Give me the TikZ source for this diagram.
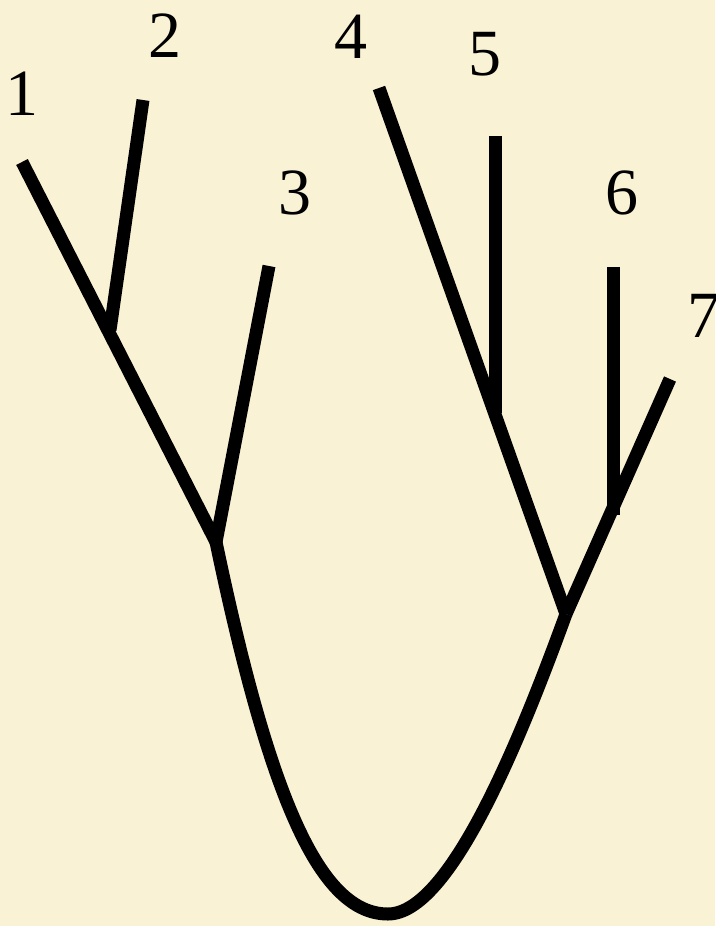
\documentclass[tikz,border=0pt]{standalone}
\usepackage{fontspec}
\setmainfont{Liberation Serif}
\definecolor{paper}{RGB}{250,242,212}
\begin{document}
\begin{tikzpicture}[x=1pt,y=-1pt,
  branch/.style={line width=13pt,black,line cap=butt},
  lbl/.style={font=\fontsize{66}{66}\selectfont,inner sep=0pt,text=black}]
\fill[paper] (0,0) rectangle (715,926);
\useasboundingbox (0,0) rectangle (715,926);
% tips
\coordinate (t1) at (22,162);
\coordinate (t2) at (143,100);
\coordinate (t3) at (269,266);
\coordinate (t4) at (379,88);
\coordinate (t5) at (495,136);
\coordinate (t6) at (613,267);
\coordinate (t7) at (670,379);
% junctions
\coordinate (j12) at (110,330);
\coordinate (jL) at (216,542);
\coordinate (j45) at (495,413);
\coordinate (j67) at (613,515);
\coordinate (jR) at (566,614);
\coordinate (root) at (388,914);
% branches
\draw[branch] (t1) -- (jL);
\draw[branch] (t2) -- (j12);
\draw[branch] (t3) -- (jL);
\draw[branch] (t4) -- (jR);
\draw[branch] (t5) -- (j45);
\draw[branch] (t6) -- (j67);
\draw[branch] (t7) -- (jR);
\draw[branch] (jL) .. controls (270,800) and (320,914) .. (root)
  .. controls (450,914) and (520,740) .. (jR);
% labels
\node[lbl] (l1) at (22,94) {1};
\node[lbl] (l2) at (165,36) {2};
\node[lbl] (l3) at (295,193) {3};
\node[lbl] (l4) at (351,37) {4};
\node[lbl] (l5) at (485,54) {5};
\node[lbl] (l6) at (622,193) {6};
\node[lbl] (l7) at (704,316) {7};
\end{tikzpicture}
\end{document}
